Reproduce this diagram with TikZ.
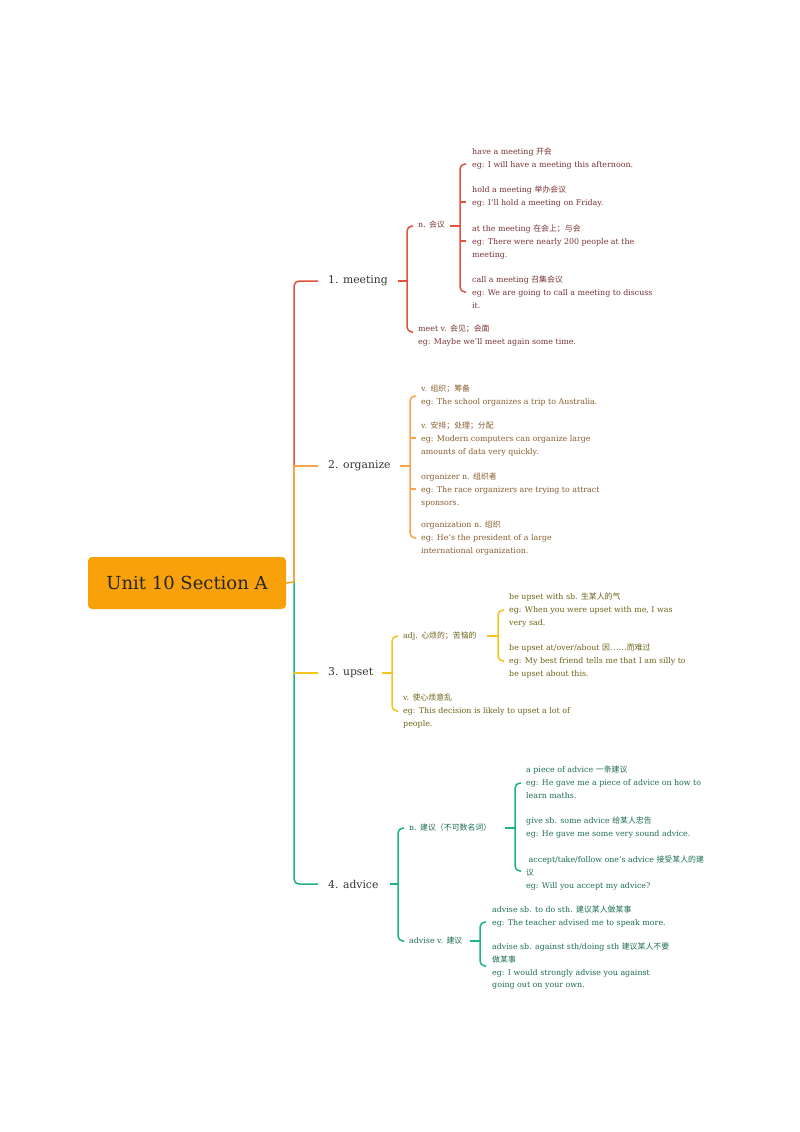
\documentclass[tikz,border=0pt]{standalone}
\usepackage{fontspec}
\setmainfont{DejaVu Serif}
\newfontfamily\cjk{Noto Sans CJK SC}
\newcommand\zh[1]{{\cjk #1}}
\definecolor{cR}{HTML}{E0533D}\definecolor{tR}{HTML}{7A3434}
\definecolor{cO}{HTML}{F5A54A}\definecolor{tO}{HTML}{8A5E30}
\definecolor{cY}{HTML}{F2C51C}\definecolor{tY}{HTML}{6E6418}
\definecolor{cG}{HTML}{1DB385}\definecolor{tG}{HTML}{1D6E55}
\definecolor{root}{HTML}{F9A10A}
\tikzset{
 item/.style={anchor=north west,inner sep=0pt,align=left,font=\fontsize{7.9}{12.6}\selectfont},
 br/.style={anchor=west,inner sep=0pt,font=\fontsize{10.8}{12}\selectfont,text=black!80},
 ln/.style={line width=1.5pt,rounded corners=5pt},
}
\newcommand\brk[5]{\draw[ln,#1] (#2+6,#3) -- (#2,#3) -- (#2,#4) -- (#2+6,#4);
 \foreach \t in {#5}{\draw[ln,#1] (#2,\t) -- (#2+6,\t);}}
\begin{document}
\begin{tikzpicture}[x=1pt,y=-1pt]
\useasboundingbox[fill=white] (0,0) rectangle (800,1132);
% root
\node[fill=root,rounded corners=4pt,minimum width=198,minimum height=52,font=\fontsize{18}{20}\selectfont,text=black!85] (root) at (187,583) {Unit 10 Section A};
% trunk
\draw[ln,cR] (318,281) -- (294,281) -- (294,467);
\draw[ln,cO] (294,466) -- (294,582);
\draw[ln,cO] (294,466) -- (318,466);
\draw[ln,cG] (294,582) -- (294,884) -- (318,884);
\draw[ln,cY] (294,673) -- (318,673);
\draw[ln,root] (root.east) -- (294,582);
% branches
\node[br] (b1) at (328,281) {1. meeting};
\node[br] (b2) at (328,466) {2. organize};
\node[br] (b3) at (328,673) {3. upset};
\node[br] (b4) at (328,884) {4. advice};
% ---- meeting
\draw[ln,cR] (398,281) -- (407,281);
\brk{cR}{407}{226}{332}{}
\node[item,text=tR] (m1) at (418,221) {n. \zh{会议}};
\draw[ln,cR] (450,226) -- (460,226);
\brk{cR}{460}{164}{292}{202,241}
\node[item,text=tR] (m11) at (472,148) {have a meeting \zh{开会}\\eg: I will have a meeting this afternoon.};
\node[item,text=tR] (m12) at (472,186) {hold a meeting \zh{举办会议}\\eg: I'll hold a meeting on Friday.};
\node[item,text=tR] (m13) at (472,225) {at the meeting \zh{在会上；与会}\\eg: There were nearly 200 people at the\\meeting.};
\node[item,text=tR] (m14) at (472,276) {call a meeting \zh{召集会议}\\eg: We are going to call a meeting to discuss\\it.};
\node[item,text=tR] (m2) at (418,325) {meet v. \zh{会见；会面}\\eg: Maybe we'll meet again some time.};
% ---- organize
\draw[ln,cO] (400,466) -- (410,466);
\brk{cO}{410}{396}{538}{438,489}
\node[item,text=tO] (o1) at (421,385) {v. \zh{组织；筹备}\\eg: The school organizes a trip to Australia.};
\node[item,text=tO] (o2) at (421,422) {v. \zh{安排；处理；分配}\\eg: Modern computers can organize large\\amounts of data very quickly.};
\node[item,text=tO] (o3) at (421,473) {organizer n. \zh{组织者}\\eg: The race organizers are trying to attract\\sponsors.};
\node[item,text=tO] (o4) at (421,521) {organization n. \zh{组织}\\eg: He's the president of a large\\international organization.};
% ---- upset
\draw[ln,cY] (382,673) -- (392,673);
\brk{cY}{392}{636}{711}{}
\node[item,text=tY] (u1) at (403,632) {adj. \zh{心烦的；苦恼的}};
\draw[ln,cY] (487,636) -- (498,636);
\brk{cY}{498}{610}{661}{}
\node[item,text=tY] (u11) at (509,593) {be upset with sb. \zh{生某人的气}\\eg: When you were upset with me, I was\\very sad.};
\node[item,text=tY] (u12) at (509,644) {be upset at/over/about \zh{因……而难过}\\eg: My best friend tells me that I am silly to\\be upset about this.};
\node[item,text=tY] (u2) at (403,694) {v. \zh{使心烦意乱}\\eg: This decision is likely to upset a lot of\\people.};
% ---- advice
\draw[ln,cG] (390,884) -- (398,884);
\brk{cG}{398}{828}{941}{}
\node[item,text=tG] (a1) at (409,824) {n. \zh{建议（不可数名词）}};
\draw[ln,cG] (505,828) -- (515,828);
\brk{cG}{515}{783}{871}{}
\node[item,text=tG] (a11) at (526,766) {a piece of advice \zh{一条建议}\\eg: He gave me a piece of advice on how to\\learn maths.};
\node[item,text=tG] (a12) at (526,817) {give sb. some advice \zh{给某人忠告}\\eg: He gave me some very sound advice.};
\node[item,text=tG] (a13) at (526,856) {\ accept/take/follow one's advice \zh{接受某人的建}\\\zh{议}\\eg: Will you accept my advice?};
\node[item,text=tG] (a2) at (409,937) {advise v. \zh{建议}};
\draw[ln,cG] (470,941) -- (480,941);
\brk{cG}{480}{922}{966}{}
\node[item,text=tG] (a21) at (492,906) {advise sb. to do sth. \zh{建议某人做某事}\\eg: The teacher advised me to speak more.};
\node[item,text=tG] (a22) at (492,943) {advise sb. against sth/doing sth \zh{建议某人不要}\\\zh{做某事}\\eg: I would strongly advise you against\\going out on your own.};
\end{tikzpicture}
\end{document}
